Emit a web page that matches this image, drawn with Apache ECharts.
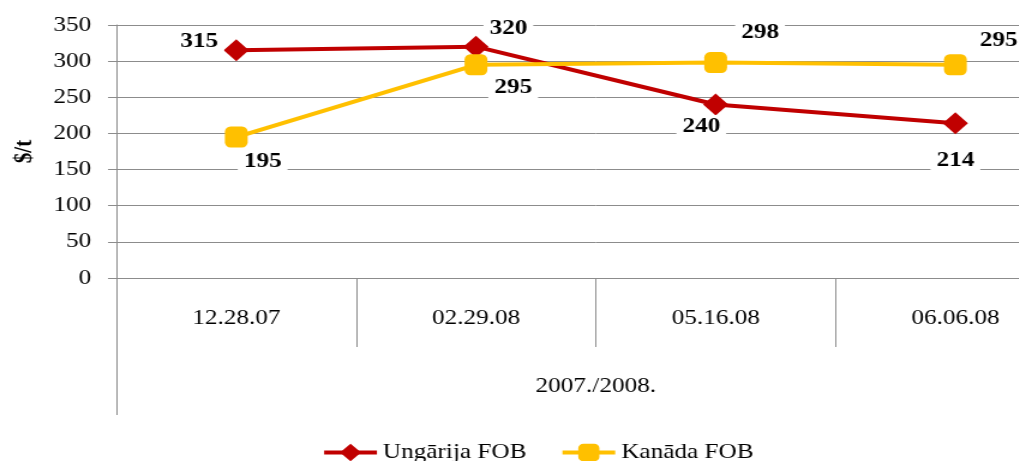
<!DOCTYPE html>
<html>
<head>
<meta charset="utf-8">
<script src="https://cdn.jsdelivr.net/npm/echarts@6/dist/echarts.min.js"></script>
<style>
  html, body { margin: 0; padding: 0; background: #fff; overflow: hidden; }
  /* the original picture is stretched sideways, so stretch the chart too */
  #chart { width: 896px; height: 461px; transform: scaleX(1.2); transform-origin: 0 0; }
</style>
</head>
<body>
<div id="chart"></div>
<script>
  // data
  var dates = ['12.28.07', '02.29.08', '05.16.08', '06.06.08'];
  var groupLabel = ['2007./2008.'];
  var ungarija = [315, 320, 240, 214];
  var kanada = [195, 295, 298, 295];
  var yTicks = { min: 0, max: 350, interval: 50 };

  // label offsets (px, relative to the point)
  var ungOffsets = [[-31, -9], [27, -18], [-12, 22], [0, 37]];
  var kanOffsets = [[22, 25], [31, 23], [37, -30], [36, -24]];

  var serif = '"Liberation Serif", "DejaVu Serif", serif';

  function withLabels(values, offsets) {
    return values.map(function (v, i) {
      return { value: v, label: { offset: offsets[i] } };
    });
  }

  var labelStyle = {
    show: true,
    position: 'inside',
    fontFamily: serif,
    fontSize: 21,
    fontWeight: 'bold',
    color: '#000',
    backgroundColor: '#fff',
    padding: [1, 5]
  };

  var chart = echarts.init(document.getElementById('chart'));

  var option = {
    animation: false,
    grid: { left: 97, right: 0, top: 25, bottom: 183, containLabel: false },
    legend: {
      top: 437,
      left: 'center',
      itemWidth: 44,
      itemHeight: 22,
      itemGap: 28,
      lineStyle: { width: 4 },
      textStyle: { fontFamily: serif, fontSize: 21, color: '#000' },
      data: ['Ungārija FOB', 'Kanāda FOB']
    },
    xAxis: [
      {
        type: 'category',
        data: dates,
        boundaryGap: true,
        axisLine: { show: true, lineStyle: { color: '#8c8c8c', width: 1 } },
        axisTick: { show: true, length: 69, lineStyle: { color: '#8c8c8c' } },
        axisLabel: { margin: 30, fontFamily: serif, fontSize: 21, color: '#000' },
        splitLine: { show: false }
      },
      {
        type: 'category',
        position: 'bottom',
        data: groupLabel,
        boundaryGap: true,
        axisLine: { show: false },
        axisTick: { show: true, length: 137, lineStyle: { color: '#8c8c8c' } },
        axisLabel: { margin: 98, fontFamily: serif, fontSize: 21, color: '#000' },
        splitLine: { show: false }
      }
    ],
    yAxis: {
      type: 'value',
      min: yTicks.min,
      max: yTicks.max,
      interval: yTicks.interval,
      name: '$/t',
      nameLocation: 'middle',
      nameGap: 66,
      nameRotate: 90,
      nameTextStyle: { fontFamily: serif, fontSize: 21, fontWeight: 'bold', color: '#000' },
      axisLine: { show: true, lineStyle: { color: '#8c8c8c', width: 1 } },
      axisTick: { show: true, length: 7, lineStyle: { color: '#8c8c8c' } },
      axisLabel: { margin: 21, fontFamily: serif, fontSize: 21, color: '#000' },
      splitLine: { show: true, lineStyle: { color: '#8c8c8c', width: 1 } }
    },
    series: [
      {
        name: 'Ungārija FOB',
        type: 'line',
        data: withLabels(ungarija, ungOffsets),
        symbol: 'diamond',
        symbolSize: [21, 22],
        lineStyle: { color: '#C00000', width: 4 },
        itemStyle: { color: '#C00000' },
        label: labelStyle,
        z: 3
      },
      {
        name: 'Kanāda FOB',
        type: 'line',
        data: withLabels(kanada, kanOffsets),
        symbol: 'roundRect',
        symbolSize: [19, 21],
        lineStyle: { color: '#FFC000', width: 4 },
        itemStyle: { color: '#FFC000' },
        label: labelStyle,
        z: 4
      }
    ]
  };

  chart.setOption(option);
</script>
</body>
</html>
